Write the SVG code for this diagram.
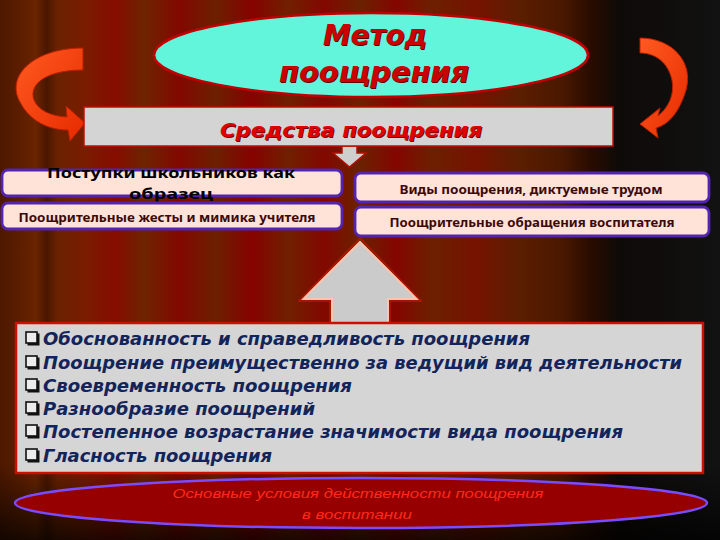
<svg xmlns="http://www.w3.org/2000/svg" width="720" height="540" viewBox="0 0 720 540">
<defs>
<linearGradient id="curtain" x1="0" y1="0" x2="1" y2="0">
<stop offset="0" stop-color="#4d1800"/>
<stop offset="0.03" stop-color="#5e1e00"/>
<stop offset="0.05" stop-color="#6a2400"/>
<stop offset="0.065" stop-color="#4a1600"/>
<stop offset="0.08" stop-color="#6a2200"/>
<stop offset="0.12" stop-color="#7a1c00"/>
<stop offset="0.16" stop-color="#860c00"/>
<stop offset="0.20" stop-color="#6e2400"/>
<stop offset="0.25" stop-color="#820800"/>
<stop offset="0.30" stop-color="#6c2000"/>
<stop offset="0.35" stop-color="#860200"/>
<stop offset="0.40" stop-color="#702000"/>
<stop offset="0.45" stop-color="#820800"/>
<stop offset="0.50" stop-color="#6a2200"/>
<stop offset="0.55" stop-color="#840600"/>
<stop offset="0.60" stop-color="#6c2000"/>
<stop offset="0.66" stop-color="#761200"/>
<stop offset="0.72" stop-color="#5c1e00"/>
<stop offset="0.78" stop-color="#4a1800"/>
<stop offset="0.82" stop-color="#2a0c00"/>
<stop offset="0.86" stop-color="#0e0a08"/>
<stop offset="1" stop-color="#121212"/>
</linearGradient>
<linearGradient id="floor" x1="0" y1="0" x2="0" y2="1">
<stop offset="0" stop-color="#000" stop-opacity="0"/>
<stop offset="0.86" stop-color="#000" stop-opacity="0"/>
<stop offset="1" stop-color="#000" stop-opacity="0.75"/>
</linearGradient>
<linearGradient id="swirl" x1="0" y1="0" x2="1" y2="1">
<stop offset="0" stop-color="#ff5a20"/>
<stop offset="1" stop-color="#e62a00"/>
</linearGradient>
<style>
.title{font-family:"DejaVu Sans",sans-serif;font-weight:bold;font-style:italic;font-size:28px;fill:#cc0000}
.tshadow{font-family:"DejaVu Sans",sans-serif;font-weight:bold;font-style:italic;font-size:28px;fill:#5a0000}
.means{font-family:"DejaVu Sans",sans-serif;font-weight:bold;font-style:italic;font-size:20px;fill:#e00000}
.meansS{font-family:"DejaVu Sans",sans-serif;font-weight:bold;font-style:italic;font-size:20px;fill:#6a0000}
.pill{fill:#ffe2d8;stroke:#5224b0;stroke-width:2.8}
.pt{font-family:"Noto Sans","Open Sans",sans-serif;font-weight:bold;font-size:13px;fill:#3a0a0a}
.big{font-family:"Noto Sans","Open Sans",sans-serif;font-weight:bold;font-size:15px;fill:#000}
.item{font-family:"DejaVu Sans",sans-serif;font-weight:bold;font-style:italic;font-size:18px;fill:#13245a}
.bul{fill:#ececec;stroke:#111;stroke-width:1.6}
.bsh{fill:#111}
.foot{font-family:"Liberation Sans",sans-serif;font-style:italic;font-size:13px;fill:#ff2a1a}
.swirl{fill:url(#swirl);stroke:#b82000;stroke-width:1}
</style>
</defs>

<rect x="0" y="0" width="720" height="540" fill="url(#curtain)"/>
<rect x="0" y="0" width="720" height="540" fill="url(#floor)"/>

<g id="connectors">
<path class="swirl" d="M83,48 C35,48 5,75 20,102 C30,122 50,130 68,130 L70,141 L85,123 L66,106 L67,117 C50,116 38,110 34,100 C28,82 50,70 83,70 Z"/>
<path class="swirl" d="M640,38 C672,38 694,62 686,90 C680,110 670,124 656,128 L658,138 L640,124 L660,108 L658,116 C668,108 675,95 672,80 C668,62 655,53 640,53 Z"/>
<polygon points="342,146 357,146 357,153 366,153 349.5,167 333,153 342,153" fill="#cfcfcf" stroke="#b01000" stroke-width="1.5"/>
<polygon points="360,242 417,299 388,299 388,324 332,324 332,299 303,299" fill="#cbcbcb" stroke="#ffc4b0" stroke-width="2"/>
<polygon points="360,238 421,301 390,301 390,324 330,324 330,301 299,301" fill="none" stroke="#b01800" stroke-width="1.5"/>
</g>

<g id="title">
<ellipse cx="371" cy="55" rx="217" ry="42" fill="#62f5dc" stroke="#c00000" stroke-width="2.5"/>
<text class="tshadow" x="376" y="46" text-anchor="middle" textLength="104" lengthAdjust="spacingAndGlyphs">Метод</text>
<text class="title" x="375" y="45" text-anchor="middle" textLength="104" lengthAdjust="spacingAndGlyphs">Метод</text>
<text class="tshadow" x="375" y="83" text-anchor="middle" textLength="190" lengthAdjust="spacingAndGlyphs">поощрения</text>
<text class="title" x="374" y="82" text-anchor="middle" textLength="190" lengthAdjust="spacingAndGlyphs">поощрения</text>
</g>

<g id="means">
<rect x="84" y="107" width="529" height="39" fill="#d4d4d4" stroke="#c01000" stroke-width="1.5"/>
<text class="meansS" x="352" y="138" text-anchor="middle" textLength="262" lengthAdjust="spacingAndGlyphs">Средства поощрения</text>
<text class="means" x="351" y="137" text-anchor="middle" textLength="262" lengthAdjust="spacingAndGlyphs">Средства поощрения</text>
</g>

<g id="box-deeds">
<rect class="pill" x="2" y="170" width="340" height="26" rx="6"/>
<text class="big" x="171" y="178" text-anchor="middle" textLength="248" lengthAdjust="spacingAndGlyphs">Поступки школьников как</text>
<text class="big" x="171" y="199" text-anchor="middle" textLength="84" lengthAdjust="spacingAndGlyphs">образец</text>
</g>

<g id="box-gestures">
<rect class="pill" x="2" y="203" width="340" height="26" rx="6"/>
<text class="pt" x="167" y="222" text-anchor="middle" textLength="297" lengthAdjust="spacingAndGlyphs">Поощрительные жесты и мимика учителя</text>
</g>

<g id="box-labor">
<rect class="pill" x="355" y="173" width="354" height="29" rx="6"/>
<text class="pt" x="531" y="194" text-anchor="middle" textLength="263" lengthAdjust="spacingAndGlyphs">Виды поощрения, диктуемые трудом</text>
</g>

<g id="box-address">
<rect class="pill" x="355" y="207" width="354" height="29" rx="6"/>
<text class="pt" x="532" y="227" text-anchor="middle" textLength="285" lengthAdjust="spacingAndGlyphs">Поощрительные обращения воспитателя</text>
</g>

<g id="conditions">
<rect x="16" y="323" width="687" height="150" fill="#d5d5d5" stroke="#cc1000" stroke-width="2.5"/>
<g>
<rect class="bsh" x="27.5" y="333.5" width="12" height="12"/>
<rect class="bul" x="26" y="332" width="11" height="11"/>
<rect class="bsh" x="27.5" y="357.5" width="12" height="12"/>
<rect class="bul" x="26" y="356" width="11" height="11"/>
<rect class="bsh" x="27.5" y="380.5" width="12" height="12"/>
<rect class="bul" x="26" y="379" width="11" height="11"/>
<rect class="bsh" x="27.5" y="403.5" width="12" height="12"/>
<rect class="bul" x="26" y="402" width="11" height="11"/>
<rect class="bsh" x="27.5" y="426.5" width="12" height="12"/>
<rect class="bul" x="26" y="425" width="11" height="11"/>
<rect class="bsh" x="27.5" y="450.5" width="12" height="12"/>
<rect class="bul" x="26" y="449" width="11" height="11"/>
</g>
<text class="item" x="43" y="345" textLength="487" lengthAdjust="spacingAndGlyphs">Обоснованность и справедливость поощрения</text>
<text class="item" x="43" y="369" textLength="639" lengthAdjust="spacingAndGlyphs">Поощрение преимущественно за ведущий вид деятельности</text>
<text class="item" x="43" y="392" textLength="309" lengthAdjust="spacingAndGlyphs">Своевременность поощрения</text>
<text class="item" x="43" y="415" textLength="272" lengthAdjust="spacingAndGlyphs">Разнообразие поощрений</text>
<text class="item" x="43" y="438" textLength="580" lengthAdjust="spacingAndGlyphs">Постепенное возрастание значимости вида поощрения</text>
<text class="item" x="43" y="462" textLength="229" lengthAdjust="spacingAndGlyphs">Гласность поощрения</text>
</g>

<g id="footer">
<ellipse cx="361" cy="503" rx="346" ry="25" fill="#960000" stroke="#7a4cff" stroke-width="2.5"/>
<text class="foot" x="358" y="498" text-anchor="middle" textLength="371" lengthAdjust="spacingAndGlyphs">Основные условия действенности поощрения</text>
<text class="foot" x="357" y="519" text-anchor="middle" textLength="110" lengthAdjust="spacingAndGlyphs">в воспитании</text>
</g>
</svg>
